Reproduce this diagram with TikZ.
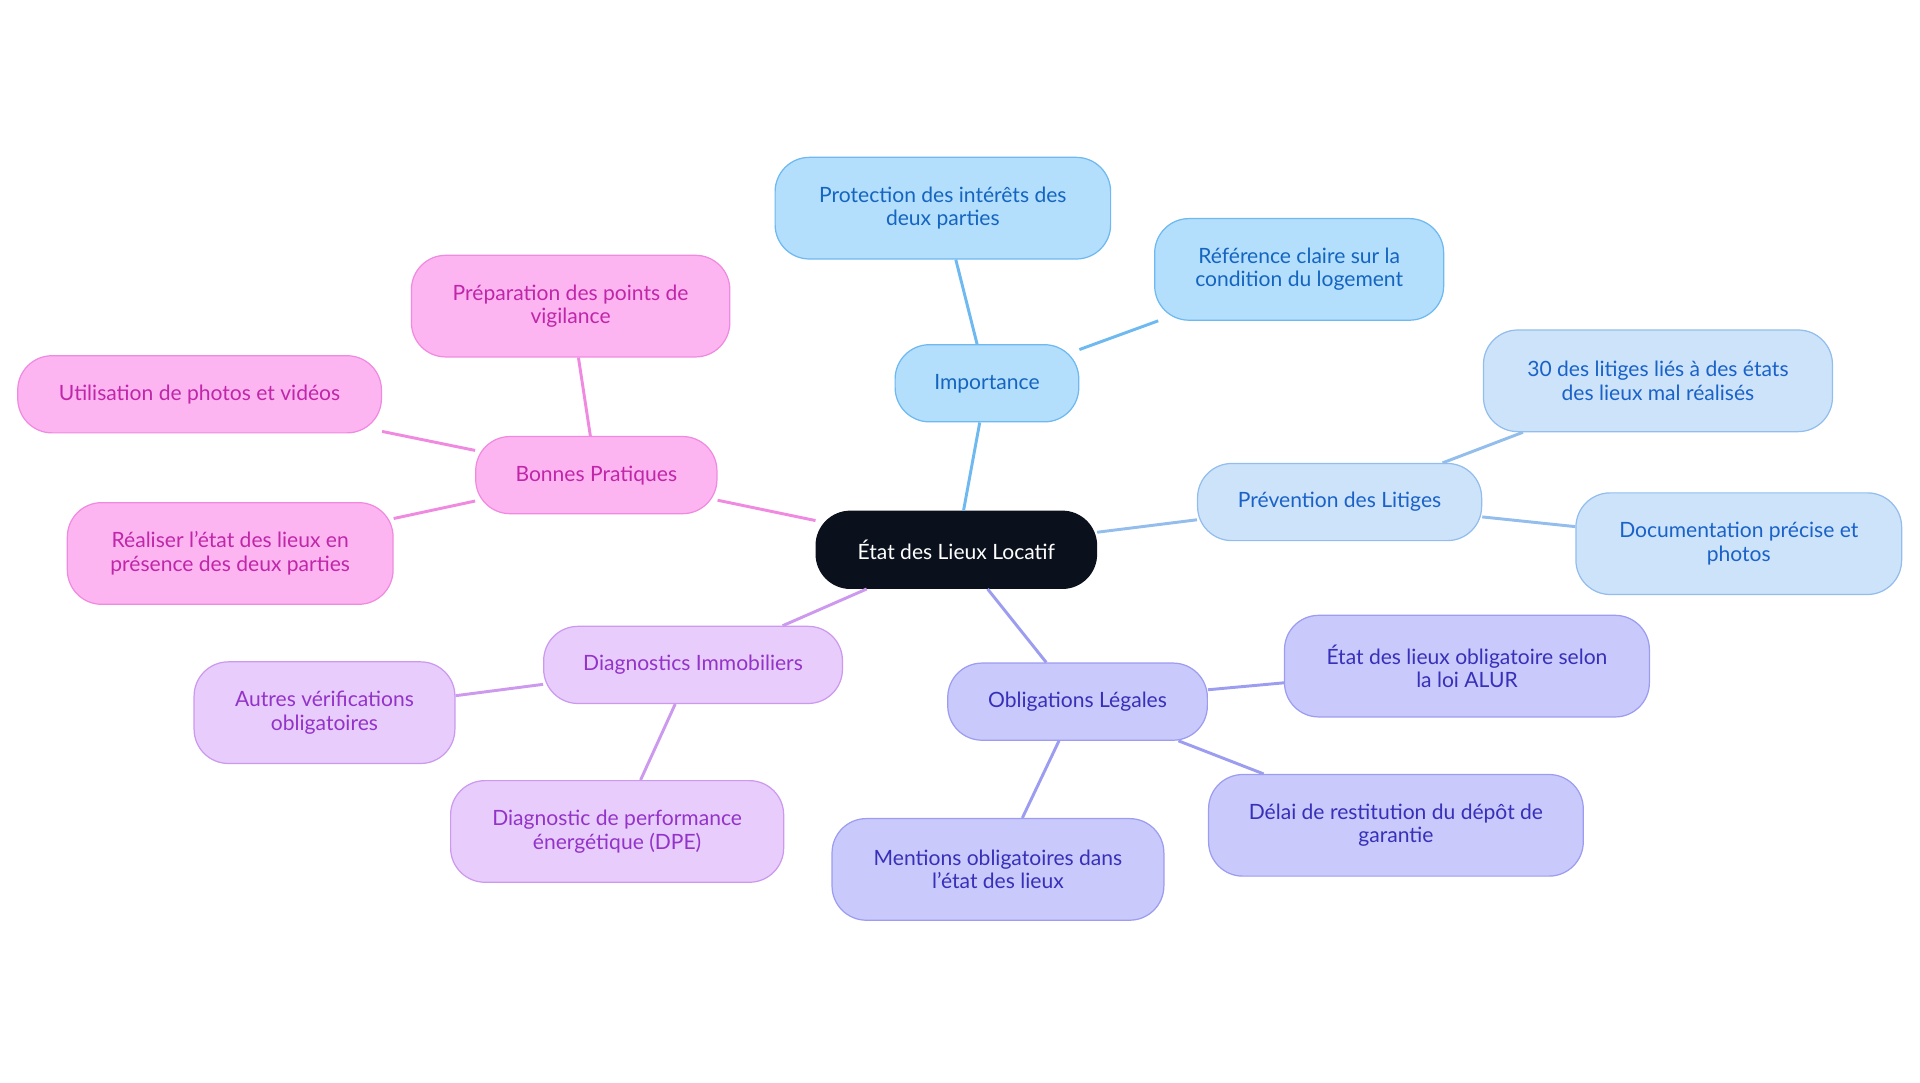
\documentclass[tikz,border=0pt]{standalone}
\usepackage{fontspec}
\setmainfont{Lato}
\begin{document}
\begin{tikzpicture}[x=0.5pt,y=-0.5pt,
 base/.style={rounded corners=14pt,align=center,font=\fontsize{8.6}{9.6}\selectfont,line width=0.5pt,inner sep=0pt},
 rootn/.style={base,fill=cRoot,draw=cRoot,text=white},
 blue/.style={base,fill=bF,draw=bD,text=bT},
 lblue/.style={base,fill=lF,draw=lD,text=lT},
 pblue/.style={base,fill=pF,draw=pD,text=pT},
 lav/.style={base,fill=vF,draw=vD,text=vT},
 pink/.style={base,fill=kF,draw=kD,text=kT},
 sz/.style 2 args={minimum width=#1*0.5pt,minimum height=#2*0.5pt},
 ed/.style={line width=1.2pt}]
\definecolor{cRoot}{HTML}{0B111C}
\definecolor{bF}{HTML}{B3DEFC}\definecolor{bD}{HTML}{6DB9F0}\definecolor{bT}{HTML}{1565C0}
\definecolor{lF}{HTML}{CCE3FA}\definecolor{lD}{HTML}{92BDEC}\definecolor{lT}{HTML}{1A62C8}
\definecolor{pF}{HTML}{C9C9FC}\definecolor{pD}{HTML}{9C9CF0}\definecolor{pT}{HTML}{3730B8}
\definecolor{vF}{HTML}{E8CCFC}\definecolor{vD}{HTML}{CC99EE}\definecolor{vT}{HTML}{9333C8}
\definecolor{kF}{HTML}{FDB5F2}\definecolor{kD}{HTML}{F08AE0}\definecolor{kT}{HTML}{C026A8}
\useasboundingbox (0,0) rectangle (1568,884);
\node[rootn,sz={229}{63}] (root) at (781,449) {État des Lieux Locatif};
\node[blue,sz={150}{63}] (imp) at (806,313) {Importance};
\node[blue,sz={274}{83}] (prot) at (770,170) {Protection des intérêts des\\deux parties};
\node[blue,sz={236}{83}] (ref) at (1061,220) {Référence claire sur la\\condition du logement};
\node[lblue,sz={232}{63}] (prev) at (1094,410) {Prévention des Litiges};
\node[lblue,sz={285}{83}] (lit) at (1354,311) {30 des litiges liés à des états\\des lieux mal réalisés};
\node[lblue,sz={266}{83}] (doc) at (1420,444) {Documentation précise et\\photos};
\node[pblue,sz={212}{63}] (obl) at (880,573) {Obligations Légales};
\node[pblue,sz={298}{83}] (alur) at (1198,544) {État des lieux obligatoire selon\\la loi ALUR};
\node[pblue,sz={306}{83}] (del) at (1140,674) {Délai de restitution du dépôt de\\garantie};
\node[pblue,sz={271}{83}] (men) at (815,710) {Mentions obligatoires dans\\l'état des lieux};
\node[lav,sz={244}{63}] (diag) at (566,543) {Diagnostics Immobiliers};
\node[lav,sz={213}{83}] (aut) at (265,582) {Autres vérifications\\obligatoires};
\node[lav,sz={272}{83}] (dpe) at (504,679) {Diagnostic de performance\\énergétique (DPE)};
\node[pink,sz={197}{63}] (bon) at (487,388) {Bonnes Pratiques};
\node[pink,sz={260}{83}] (prep) at (466,250) {Préparation des points de\\vigilance};
\node[pink,sz={297}{63}] (uti) at (163,322) {Utilisation de photos et vidéos};
\node[pink,sz={266}{83}] (rea) at (188,452) {Réaliser l'état des lieux en\\présence des deux parties};
\draw[ed,bD] (root)--(imp) (imp)--(prot) (imp)--(ref);
\draw[ed,lD] (root)--(prev) (prev)--(lit) (prev)--(doc);
\draw[ed,pD] (root)--(obl) (obl)--(alur) (obl)--(del) (obl)--(men);
\draw[ed,vD] (root)--(diag) (diag)--(aut) (diag)--(dpe);
\draw[ed,kD] (root)--(bon) (bon)--(prep) (bon)--(uti) (bon)--(rea);
\end{tikzpicture}
\end{document}
